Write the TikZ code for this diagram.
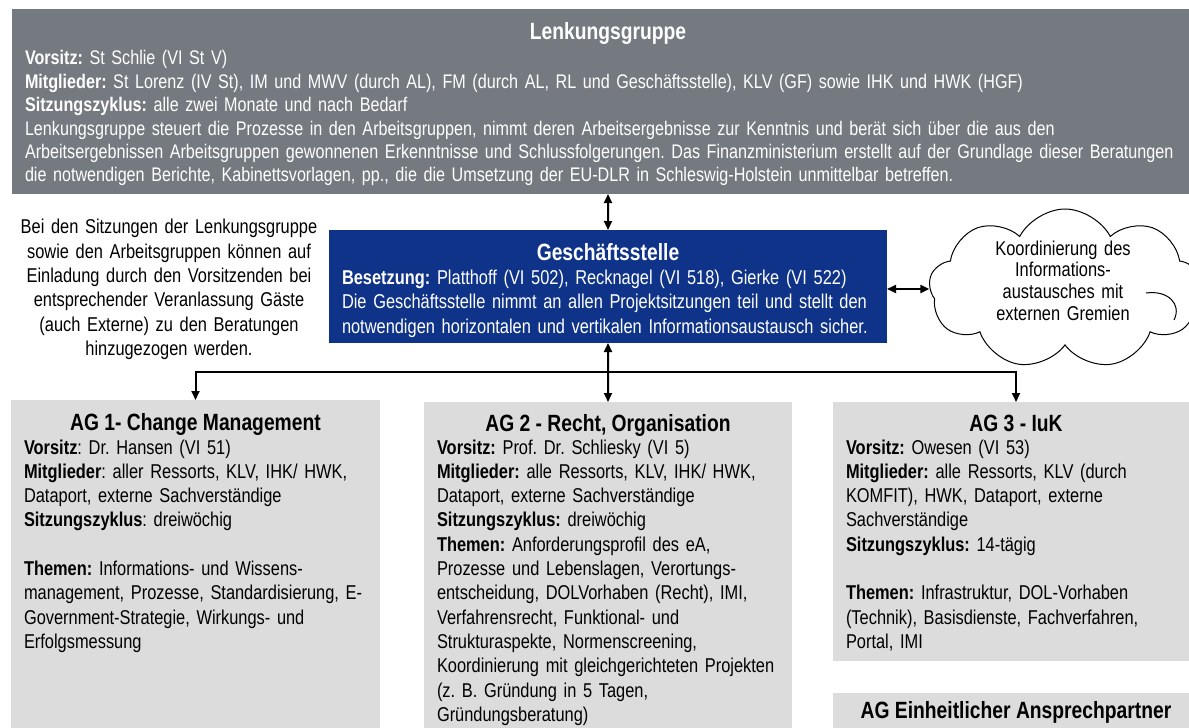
\documentclass[tikz,border=0pt]{standalone}
\usepackage{fontspec}
\setmainfont{Liberation Sans}[FakeStretch=0.82]
\usetikzlibrary{arrows.meta,shapes.symbols}
\definecolor{lggray}{RGB}{117,122,128}
\definecolor{aggray}{RGB}{220,220,220}
\definecolor{gsblue}{RGB}{14,51,136}
\begin{document}
\frenchspacing
\begin{tikzpicture}[x=1bp,y=-1bp,
  box/.style={rectangle, inner sep=0, outer sep=0, anchor=north west},
  txt/.style={inner sep=0, outer sep=0, anchor=base west, align=left, text width=#1},
  body/.style={font=\fontsize{20bp}{24.3bp}\selectfont},
  ttl/.style={font=\fontsize{23.5bp}{26bp}\selectfont\bfseries, inner sep=0, outer sep=0, anchor=base},
  arr/.style={line width=2bp, -{Triangle[length=9bp,width=8bp]}},
  dbl/.style={line width=2bp, {Triangle[length=9bp,width=8bp]}-{Triangle[length=9bp,width=8bp]}}]
\useasboundingbox (0,0) rectangle (1189,728);
\fill[white] (0,0) rectangle (1189,728);

% boxes
\node[box, fill=lggray, minimum width=1192bp, minimum height=185bp] (lg) at (12,9) {};
\node[box, fill=gsblue, minimum width=558bp, minimum height=113bp] (gs) at (329,230) {};
\node[box, fill=aggray, minimum width=369bp, minimum height=340bp] (ag1) at (11,400) {};
\node[box, fill=aggray, minimum width=368bp, minimum height=340bp] (ag2) at (424,402) {};
\node[box, fill=aggray, minimum width=366bp, minimum height=259bp] (ag3) at (833,402) {};
\node[box, fill=aggray, minimum width=366bp, minimum height=60bp] (agea) at (833,693) {};
\node[cloud, cloud puffs=9, cloud puff arc=125, cloud ignores aspect, shape border rotate=20,
      draw, line width=1bp, fill=white, inner sep=0, minimum width=272bp, minimum height=160bp] (cl) at (1065,289) {};
\draw[line width=1bp] (1146,293) .. controls (1168,290) and (1182,304) .. (1174,320);

% Lenkungsgruppe
\node[ttl, text=white] (lgt) at (608,40) {Lenkungsgruppe};
\node[txt=1200bp, font=\fontsize{19.7bp}{23.4bp}\selectfont, text=white] (lgb) at (25,65)
 {\textbf{Vorsitz:} St Schlie (VI St V)\\
  \textbf{Mitglieder:} St Lorenz (IV St), IM und MWV (durch AL), FM (durch AL, RL und Geschäftsstelle), KLV (GF) sowie IHK und HWK (HGF)\\
  \textbf{Sitzungszyklus:} alle zwei Monate und nach Bedarf\\
  Lenkungsgruppe steuert die Prozesse in den Arbeitsgruppen, nimmt deren Arbeitsergebnisse zur Kenntnis und berät sich über die aus den\\
  Arbeitsergebnissen Arbeitsgruppen gewonnenen Erkenntnisse und Schlussfolgerungen. Das Finanzministerium erstellt auf der Grundlage dieser Beratungen\\
  die notwendigen Berichte, Kabinettsvorlagen, pp., die die Umsetzung der EU-DLR in Schleswig-Holstein unmittelbar betreffen.};

% note left
\node[txt=320bp, align=center, anchor=base, body] (note) at (169,234)
 {Bei den Sitzungen der Lenkungsgruppe\\
  sowie den Arbeitsgruppen können auf\\
  Einladung durch den Vorsitzenden bei\\
  entsprechender Veranlassung Gäste\\
  (auch Externe) zu den Beratungen\\
  hinzugezogen werden.};

% Geschaeftsstelle
\node[ttl, text=white] (gst) at (608,260) {Geschäftsstelle};
\node[txt=540bp, font=\fontsize{20bp}{24.5bp}\selectfont, text=white] (gsb) at (342,284)
 {\textbf{Besetzung:} Platthoff (VI 502), Recknagel (VI 518), Gierke (VI 522)\\
  Die Geschäftsstelle nimmt an allen Projektsitzungen teil und stellt den\\
  notwendigen horizontalen und vertikalen Informationsaustausch sicher.};

% cloud text
\node[txt=220bp, align=center, anchor=base, font=\fontsize{20bp}{21.8bp}\selectfont] (clt) at (1063,255)
 {Koordinierung des\\Informations-\\austausches mit\\externen Gremien};

% AG 1
\node[ttl] (ag1t) at (195.5,430) {AG 1- Change Management};
\node[txt=360bp, body] (ag1b) at (24,454)
 {\textbf{Vorsitz}: Dr. Hansen (VI 51)\\
  \textbf{Mitglieder}: aller Ressorts, KLV, IHK/ HWK,\\
  Dataport, externe Sachverständige\\
  \textbf{Sitzungszyklus}: dreiwöchig\\
  \mbox{}\\
  \textbf{Themen:} Informations- und Wissens-\\
  management, Prozesse, Standardisierung, E-\\
  Government-Strategie, Wirkungs- und\\
  Erfolgsmessung};

% AG 2
\node[ttl] (ag2t) at (608,431) {AG 2 - Recht, Organisation};
\node[txt=360bp, body] (ag2b) at (437,454)
 {\textbf{Vorsitz:} Prof. Dr. Schliesky (VI 5)\\
  \textbf{Mitglieder:} alle Ressorts, KLV, IHK/ HWK,\\
  Dataport, externe Sachverständige\\
  \textbf{Sitzungszyklus:} dreiwöchig\\
  \textbf{Themen:} Anforderungsprofil des eA,\\
  Prozesse und Lebenslagen, Verortungs-\\
  entscheidung, DOLVorhaben (Recht), IMI,\\
  Verfahrensrecht, Funktional- und\\
  Strukturaspekte, Normenscreening,\\
  Koordinierung mit gleichgerichteten Projekten\\
  (z. B. Gründung in 5 Tagen,\\
  Gründungsberatung)};

% AG 3
\node[ttl] (ag3t) at (1016,431) {AG 3 - IuK};
\node[txt=340bp, body] (ag3b) at (846,454)
 {\textbf{Vorsitz:} Owesen (VI 53)\\
  \textbf{Mitglieder:} alle Ressorts, KLV (durch\\
  KOMFIT), HWK, Dataport, externe\\
  Sachverständige\\
  \textbf{Sitzungszyklus:} 14-tägig\\
  \mbox{}\\
  \textbf{Themen:} Infrastruktur, DOL-Vorhaben\\
  (Technik), Basisdienste, Fachverfahren,\\
  Portal, IMI};

% AG EA
\node[ttl] (ageat) at (1016,718) {AG Einheitlicher Ansprechpartner};

% connectors
\coordinate (J) at (608,372);
\draw[dbl] (lg.south) -- (gs.north);
\draw[dbl] (gs.south) -- (ag2.north);
\draw[arr] (J) -| (ag1.north);
\draw[arr] (J) -| (ag3.north);
\draw[dbl] (gs.east |- cl.west) -- (cl.west);
\end{tikzpicture}
\end{document}
